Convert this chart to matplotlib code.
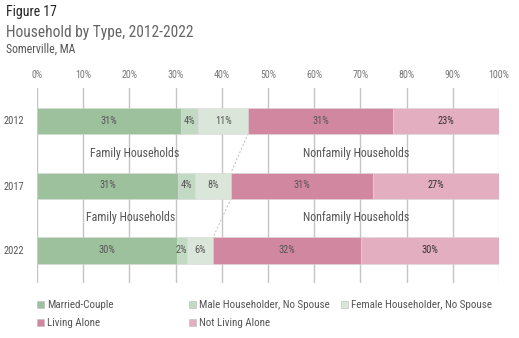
import matplotlib
matplotlib.use("Agg")
import matplotlib.pyplot as plt
from matplotlib.patches import Rectangle
from matplotlib import font_manager

# Household shares (%) by year
years = ["2012", "2017", "2022"]
married_couple = [31.1, 30.6, 30.2]
male_no_spouse = [3.8, 3.6, 2.3]
female_no_spouse = [10.8, 7.8, 5.6]
living_alone = [31.3, 30.8, 32.0]
not_living_alone = [23.0, 27.2, 29.9]

series_names = ["Married-Couple", "Male Householder, No Spouse",
                "Female Householder, No Spouse", "Living Alone",
                "Not Living Alone"]
series_colors = ["#9dc09d", "#c2dac3", "#dbe6db", "#d0879f", "#e2aec0"]
label_colors = ["#555555", "#555555", "#555555", "#555555", "#333333"]

x_ticks = [0, 10, 20, 30, 40, 50, 60, 70, 80, 90, 100]
x_tick_labels = [f"{t}%" for t in x_ticks]

available = {f.name for f in font_manager.fontManager.ttflist}
family = [f for f in ["Roboto Condensed", "Liberation Sans Narrow", "Roboto"]
          if f in available] + ["DejaVu Sans"]
plt.rcParams["font.family"] = family

fig = plt.figure(figsize=(5.19, 3.38), dpi=100)
W, H = 519, 338
ax = fig.add_axes([37 / W, 1 - 283 / H, 462 / W, 195 / H])

data = [married_couple, male_no_spouse, female_no_spouse, living_alone,
        not_living_alone]
ypos = list(range(len(years)))
bar_h = 0.4
left = [0.0] * len(years)
for vals, color, lc in zip(data, series_colors, label_colors):
    ax.barh(ypos, vals, left=left, height=bar_h, color=color,
            edgecolor="#d8d8d8", linewidth=0.4, zorder=3)
    for y, v, l in zip(ypos, vals, left):
        ax.text(l + v / 2, y, f"{round(v)}%", ha="center", va="center",
                fontsize=7.5, color=lc, zorder=4)
    left = [a + b for a, b in zip(left, vals)]

# Family / nonfamily boundary connectors
family_total = [a + b + c for a, b, c in zip(married_couple, male_no_spouse,
                                               female_no_spouse)]
for i in range(len(years) - 1):
    ax.plot([family_total[i], family_total[i + 1]],
            [ypos[i] + bar_h / 2, ypos[i + 1] - bar_h / 2],
            ls=(0, (2, 2)), color="#bbbbbb", lw=0.7, zorder=2)

# Group labels between the bars
for i, fx in zip(range(len(years) - 1), [21.1, 20.2]):
    ymid = (ypos[i] + ypos[i + 1]) / 2
    ax.text(fx, ymid, "Family Households", ha="center", va="center",
            fontsize=8.6, color="#555555", zorder=5)
    ax.text(69.1, ymid, "Nonfamily Households", ha="center", va="center",
            fontsize=8.6, color="#555555", zorder=5)

ax.set_xlim(0, 100)
ax.set_ylim(2.5, -0.5)
ax.set_yticks(ypos)
ax.set_yticklabels(years, fontsize=7.5, color="#555555")
ax.tick_params(axis="y", length=0, pad=9)
ax.xaxis.tick_top()
ax.set_xticks(x_ticks)
ax.set_xticklabels(x_tick_labels, fontsize=7.2, color="#777777")
ax.tick_params(axis="x", length=0, pad=6)
ax.grid(axis="x", color="#c4c4c4", lw=1.0, zorder=0)
ax.get_xgridlines()[-1].set_color("#e4e4e4")
for s in ax.spines.values():
    s.set_visible(False)

# Titles
fig.text(6 / W, 1 - 12 / H, "Figure 17", fontsize=10, color="#222222",
         va="center", ha="left")
fig.text(6 / W, 1 - 32 / H, "Household by Type, 2012-2022", fontsize=11.2,
         color="#666666", va="center", ha="left")
fig.text(6 / W, 1 - 49 / H, "Somerville, MA", fontsize=8.5, color="#555555",
         va="center", ha="left")

# Legend
legend_x = [37, 189, 341, 37, 189]
legend_y = [305, 305, 305, 323, 323]
for name, color, lx, ly in zip(series_names, series_colors, legend_x, legend_y):
    fig.patches.append(Rectangle(((lx) / W, 1 - (ly + 3) / H), 7 / W, 7 / H,
                                 transform=fig.transFigure, facecolor=color,
                                 edgecolor="#bbbbbb", linewidth=0.4))
    fig.text((lx + 10) / W, 1 - (ly) / H, name, fontsize=7.9,
             color="#555555", va="center", ha="left")

fig.savefig("out.png", dpi=100)
